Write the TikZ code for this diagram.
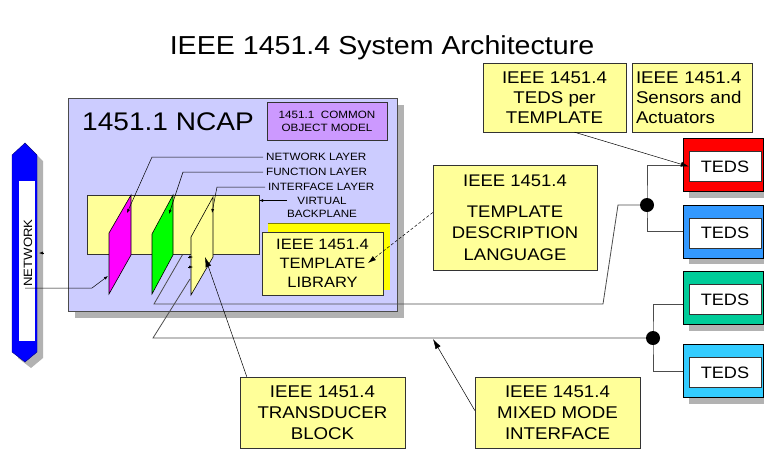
\documentclass[tikz,border=0pt]{standalone}
\usepackage{fontspec}
\setmainfont[FakeStretch=1.1]{Liberation Sans}
\usepackage{xcolor}
\usetikzlibrary{shadows,arrows.meta}

\definecolor{ncapblue}{HTML}{CCCCFF}
\definecolor{noteyellow}{HTML}{FFFF99}
\definecolor{objpurple}{HTML}{CC99FF}
\definecolor{netblue}{HTML}{0000FF}
\definecolor{netlayer}{HTML}{FF00FF}
\definecolor{funlayer}{HTML}{00FF00}
\definecolor{libyellow}{HTML}{FFFF00}
\definecolor{tedsred}{HTML}{FF0000}
\definecolor{tedsblue}{HTML}{3399FF}
\definecolor{tedsgreen}{HTML}{00CC99}
\definecolor{tedscyan}{HTML}{33CCFF}
\definecolor{shade}{HTML}{B2B2B2}

\begin{document}
\begin{tikzpicture}[x=1pt,y=-1pt,
    boxshadow/.style={drop shadow={shadow xshift=#1, shadow yshift=-#1, fill=shade, opacity=1}},
    boxshadow/.default=7pt,
    note/.style={draw=black!80, fill=noteyellow, align=center, inner sep=0pt, font=\fontsize{17}{20}\selectfont},
    layerlbl/.style={anchor=west, inner xsep=3pt, inner ysep=0pt, font=\fontsize{10.6}{13}\selectfont},
    plate/.style={draw=black, line width=0.6pt},
    leader/.style={line width=0.5pt},
    smalltip/.style={-{Latex[length=4pt,width=3pt]}},
    midtip/.style={-{Latex[length=8pt,width=5pt]}},
    bigtip/.style={-{Latex[length=10pt,width=6pt]}},
    wire/.style={draw=black!70, line width=0.8pt},
    dot/.style={circle, fill=black, inner sep=0pt, minimum size=14pt},
    tedsbox/.style={draw=black, minimum width=80pt, minimum height=53pt, boxshadow=6pt},
    tedsin/.style={draw=black!80, fill=white, minimum width=72pt, minimum height=30pt, inner sep=0pt, font=\fontsize{16.5}{20}\selectfont}]

    \useasboundingbox (0,0) rectangle (764,451);

    % Title
    \node[font=\fontsize{26}{30}\selectfont] (title) at (382,48) {IEEE 1451.4 System Architecture};

    % Network bus
    \draw[draw=blue!50!black, fill=netblue, boxshadow=6pt]
        (12,155) -- (25,143) -- (37,155) -- (37,352) -- (25,362) -- (12,352) -- cycle;
    \fill[white] (19,181) rectangle (35,341);
    \node[rotate=90, inner sep=0pt, font=\fontsize{12}{14}\selectfont] (net) at (28,253) {NETWORK};
    \coordinate (netport) at (25,288);

    % NCAP
    \node[draw=black!70, fill=ncapblue, minimum width=329pt, minimum height=213pt, boxshadow] (ncap) at (232.5,204.5) {};
    \node[font=\fontsize{25.5}{30}\selectfont] (ncaplbl) at (168,122) {1451.1 NCAP};
    \node[draw=black!80, fill=objpurple, minimum width=120pt, minimum height=38pt, align=center, inner sep=0pt,
        font=\fontsize{10.6}{13}\selectfont] (com) at (327,121) {1451.1\ \ COMMON\\OBJECT MODEL};

    % TEDS modules
    \foreach \n/\col/\y in {A/tedsred/165,B/tedsblue/231.5,C/tedsgreen/298,D/tedscyan/371} {
        \node[tedsbox, fill=\col] (teds\n) at (723,\y) {};
        \node[tedsin] (in\n) at (725,\y+1.5) {TEDS};
    }

    % Buses to the transducers
    \coordinate (busA) at (647,205);
    \coordinate (busB) at (653,338);
    \draw[wire] (tedsA.west) -| (busA) |- (tedsB.west);
    \draw[wire] ([yshift=-6pt]tedsC.west) -| (busB) |- (tedsD.west);
    \draw[wire] (busA) -- (618,205) -- (603,304) -- (154,304) -- (191,240);
    \draw[wire] (busB) -- (153,338) -- (190,279);
    \node[dot] (dotA) at (busA) {};
    \node[dot] (dotB) at (busB) {};

    % Virtual backplane and layers
    \node[draw=black!80, fill=noteyellow, minimum width=172pt, minimum height=59pt] (bp) at (173,224.5) {};
    \draw[plate, fill=netlayer] (109,233) -- (131,195) -- (131,255) -- (109,294) -- cycle;
    \draw[plate, fill=funlayer] (152,234) -- (173,195) -- (173,255) -- (152,294) -- cycle;
    \draw[plate, fill=noteyellow] (191,237) -- (213,197) -- (213,257) -- (191,295) -- cycle;

    % Template library
    \fill[libyellow] (268,223) rectangle (390,290);
    \draw[libyellow!50!black] (268,223.5) -- (390,223.5);
    \node[note, minimum width=121pt, minimum height=63pt, font=\fontsize{15}{19}\selectfont] (lib) at (322.5,263.5)
        {IEEE 1451.4\\TEMPLATE\\LIBRARY};

    % Layer labels
    \node[layerlbl] (netlbl) at (263,157) {NETWORK LAYER};
    \node[layerlbl] (funlbl) at (263,172) {FUNCTION LAYER};
    \node[layerlbl] (inflbl) at (265,187) {INTERFACE LAYER};
    \node[align=center, inner sep=0pt, font=\fontsize{10.6}{13}\selectfont] (vblbl) at (322,207.5) {VIRTUAL\\BACKPLANE};

    \coordinate (nettip) at (127,213);
    \coordinate (funtip) at (169,214);
    \coordinate (inftip) at (212,213);
    \coordinate (magport) at (108,276);
    \coordinate (vbend) at ([yshift=7pt]vblbl.west);
    \draw[leader, smalltip] (netlbl.west) -- (152,157) -- (nettip);
    \draw[leader, smalltip] (funlbl.west) -- (183,172) -- (funtip);
    \draw[leader, smalltip] (inflbl.west) -- (217,187) -- (inftip);
    \draw[leader, smalltip] (vbend) -- (vbend -| bp.east);
    \draw[leader, smalltip] (netport) -- (92,288) -- (magport);
    \draw[leader, smalltip] (188,257) -- (193,257);
    \draw[leader, smalltip] (188,267) -- (193,267);
    \draw[leader, smalltip] (44,253) -- (39,253);

    % Description language
    \node[note, minimum width=164pt, minimum height=105pt, font=\fontsize{16.8}{21.5}\selectfont] (tdl) at (515,217.5)
        {IEEE 1451.4\\[9.5pt]TEMPLATE\\DESCRIPTION\\LANGUAGE};
    \coordinate (libtip) at (368,263);
    \draw[leader, densely dashed, midtip] ([yshift=5pt]tdl.west) -- (libtip);

    % Transducer block and mixed mode interface
    \node[note, minimum width=165pt, minimum height=71pt, font=\fontsize{17}{21}\selectfont] (trans) at (322.5,412.5)
        {IEEE 1451.4\\TRANSDUCER\\BLOCK};
    \node[note, minimum width=165pt, minimum height=71pt, font=\fontsize{17}{21}\selectfont] (mixed) at (557.5,412.5)
        {IEEE 1451.4\\MIXED MODE\\INTERFACE};
    \coordinate (blocktip) at (205,257);
    \coordinate (mixtip) at (433,339);
    \draw[leader, bigtip] ([xshift=7pt]trans.north west) -- (blocktip);
    \draw[leader, bigtip] ([yshift=2pt]mixed.west) -- (mixtip);

    % TEDS and sensor notes
    \node[note, minimum width=143pt, minimum height=69pt] (tpt) at (554.5,97.5) {IEEE 1451.4\\TEDS per\\TEMPLATE};
    \node[note, minimum width=120pt, minimum height=69pt, align=left, text width=112pt, inner xsep=4pt] (sens) at (692,97.5)
        {IEEE 1451.4\\Sensors and\\Actuators};
    \draw[leader, midtip] ([xshift=20pt]tpt.south) -- (inA.west);
\end{tikzpicture}
\end{document}
